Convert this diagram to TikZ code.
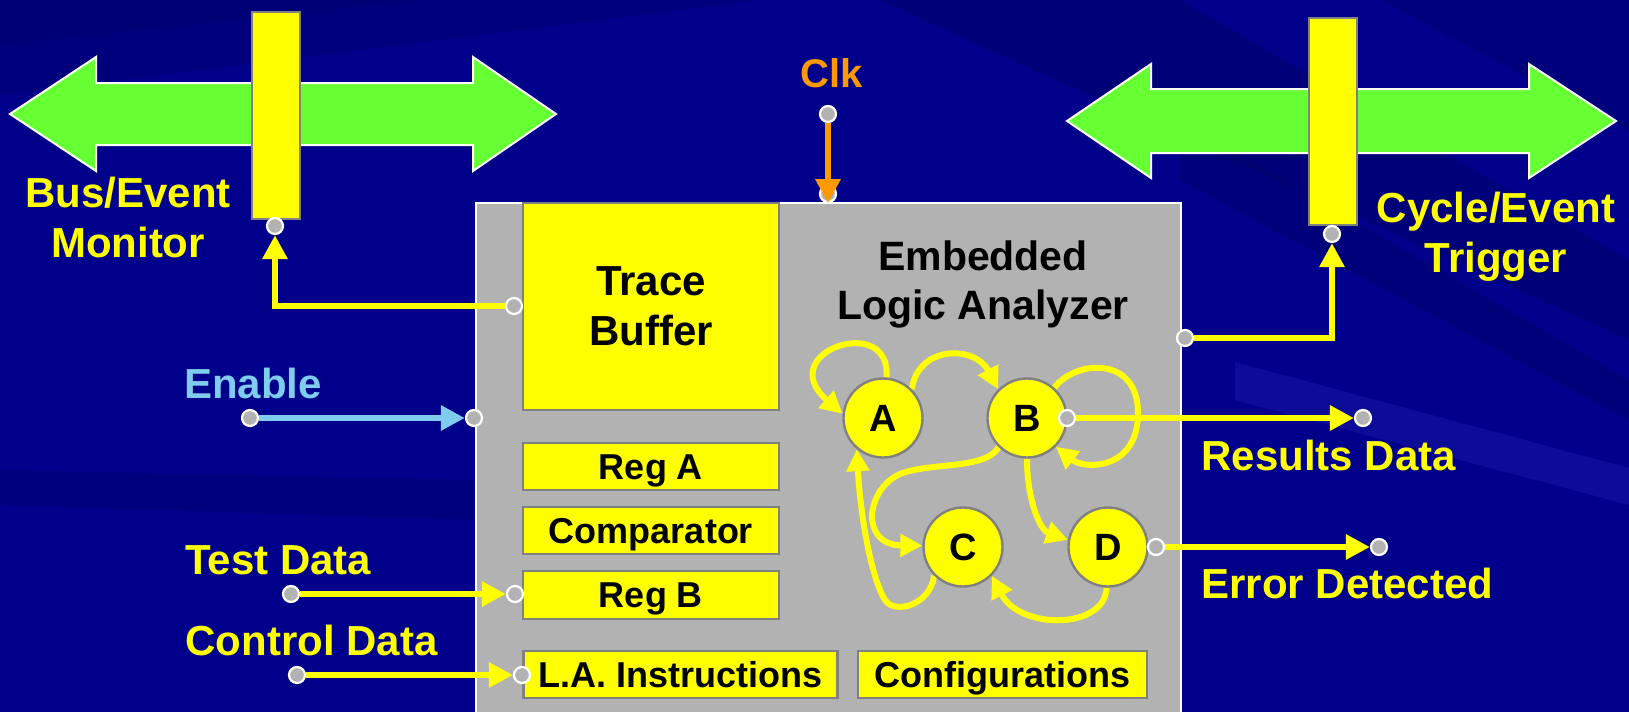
\documentclass[tikz,border=0pt]{standalone}
\usepackage{fontspec}
\setmainfont{Liberation Sans}
\usetikzlibrary{arrows.meta}

\definecolor{navy}{HTML}{00008A}
\definecolor{navydark}{HTML}{000066}
\definecolor{navylight}{HTML}{3030C8}
\definecolor{busgreen}{HTML}{66FF33}
\definecolor{hiyellow}{HTML}{FFFF00}
\definecolor{panelgray}{HTML}{B2B2B2}
\definecolor{edgegray}{HTML}{808080}
\definecolor{clkorange}{HTML}{FF9900}
\definecolor{enblue}{HTML}{80CCEE}

\pgfdeclarelayer{back}
\pgfdeclarelayer{wires}
\pgfsetlayers{back,wires,main}

\tikzset{
  port/.style={circle, fill=panelgray, draw=white, line width=1.1pt,
    minimum size=8pt, inner sep=0pt},
  blockbox/.style={draw=edgegray, line width=1.2pt, fill=hiyellow, inner sep=0pt,
    text=black, font=\fontsize{18}{21}\selectfont\bfseries},
  regbox/.style={blockbox, text height=12.9pt, text depth=0pt},
  statenode/.style={circle, draw=edgegray, line width=1.2pt, fill=hiyellow,
    minimum size=39.5pt, inner sep=0pt, font=\fontsize{19}{22}\selectfont\bfseries},
  biglabel/.style={text=hiyellow, inner sep=0pt, font=\fontsize{21}{25}\selectfont\bfseries},
  titlelabel/.style={text=black, inner sep=0pt, font=\fontsize{20.5}{25}\selectfont\bfseries},
  wire/.style={draw=hiyellow, line width=3pt, -{Triangle[length=12pt,width=12pt]}},
  transition/.style={draw=hiyellow, line width=3pt, -{Triangle[length=11pt,width=11pt]}},
  busarrow/.style={fill=busgreen, draw=white, line width=1pt, line join=miter},
  busbar/.style={fill=hiyellow, draw=edgegray, line width=1.2pt, inner sep=0pt,
    minimum width=24pt, minimum height=103.5pt, anchor=north west},
}

\begin{document}
\begin{tikzpicture}[x=0.5pt, y=-0.5pt]
\useasboundingbox (0,0) rectangle (1629,712);
\clip (0,0) rectangle (1629,712);

\begin{pgfonlayer}{back}
  % backdrop with soft diagonal streaks
  \fill[navy] (0,0) rectangle (1629,712);
  \fill[navydark, opacity=.35] (0,0) -- (760,0) -- (0,95) -- cycle;
  \fill[navydark, opacity=.3] (0,0) -- (420,0) -- (0,45) -- cycle;
  \fill[navydark, opacity=.45] (880,0) -- (1180,0) -- (1629,260) -- (1629,340) -- cycle;
  \fill[navydark, opacity=.4] (1180,120) -- (1629,380) -- (1629,420) -- (1180,180) -- cycle;
  \fill[navydark, opacity=.35] (1380,0) -- (1629,0) -- (1629,130) -- cycle;
  \fill[navylight, opacity=.25] (1235,362) -- (1629,468) -- (1629,505) -- (1235,400) -- cycle;
  \fill[navydark, opacity=.3] (0,470) -- (475,480) -- (475,520) -- (0,505) -- cycle;

  % system buses
  \path[busarrow] (10,114) -- (96,57) -- (96,83) -- (473,83) -- (473,57) -- (556,114)
    -- (473,171) -- (473,145) -- (96,145) -- (96,171) -- cycle;
  \path[busarrow] (1067,121) -- (1151,64) -- (1151,89) -- (1529,89) -- (1529,64) -- (1616,121)
    -- (1529,178) -- (1529,153) -- (1151,153) -- (1151,178) -- cycle;
  \node[busbar] (busBar) at (251,11) {};
  \node[busbar] (trigBar) at (1308,17) {};

  % analyzer panel and its blocks
  \node[draw=white, fill=panelgray, line width=1pt, inner sep=0pt, anchor=north west,
        minimum width=352.5pt, minimum height=265pt] (panel) at (475,202) {};
  \node[blockbox, minimum width=128pt, minimum height=103.5pt, align=center,
        font=\fontsize{21}{25}\selectfont\bfseries] (trace) at (651,306.5) {Trace\\Buffer};
  \node[regbox, minimum width=128pt, minimum height=23.5pt] (regA) at (651,466.5) {Reg A};
  \node[regbox, minimum width=128pt, minimum height=23.5pt] (cmp) at (651,530.5) {Comparator};
  \node[regbox, minimum width=128pt, minimum height=24pt] (regB) at (651,595) {Reg B};
  \node[regbox, minimum width=157pt, minimum height=23.5pt] (laInstr) at (680.5,674.5) {L.A. Instructions};
  \node[regbox, minimum width=144.5pt, minimum height=23.5pt] (config) at (1002.5,674.5) {Configurations};
\end{pgfonlayer}

% panel title
\node[titlelabel, anchor=base] (ttl1) at (983,270) {Embedded};
\node[titlelabel, anchor=base] (ttl2) at (983,319) {Logic Analyzer};

% state machine
\node[statenode] (A) at (883,418) {A};
\node[statenode] (B) at (1027,418) {B};
\node[statenode] (C) at (963,547) {C};
\node[statenode] (D) at (1108,547) {D};

% ports
\node[port] (busPort) at (275,226) {};
\node[port] (trigPort) at (1332,234) {};
\node[port] (tbPort) at (514,306) {};
\node[port] (trigOut) at (1185,338) {};
\node[port] (clkTop) at (828,114) {};
\node[port] (clkBot) at (828,194) {};
\node[port] (enIn) at (250,418) {};
\node[port] (enPort) at (474,418) {};
\node[port] (tdIn) at (291,594) {};
\node[port] (regBPort) at (515,594) {};
\node[port] (cdIn) at (297,675) {};
\node[port] (laPort) at (522,675) {};
\node[port] (bOut) at (1067,418) {};
\node[port] (resPort) at (1363,418) {};
\node[port] (dOut) at (1156,547) {};
\node[port] (errPort) at (1379,547) {};

% the clock arrow runs over its port
\draw[wire, draw=clkorange] (clkTop) -- (clkBot.south);

% outside labels
\node[biglabel, anchor=base] (busLbl1) at (128,207) {Bus/Event};
\node[biglabel, anchor=base] (busLbl2) at (128,257) {Monitor};
\node[biglabel, anchor=base] (trigLbl1) at (1496,222) {Cycle/Event};
\node[biglabel, anchor=base] (trigLbl2) at (1496,272) {Trigger};
\node[biglabel, anchor=base, text=clkorange, font=\fontsize{20}{24}\selectfont\bfseries] (clkLbl) at (832,87) {Clk};
\node[biglabel, anchor=base, text=enblue] (enLbl) at (253,398) {Enable};
\node[biglabel, anchor=base west] (tdLbl) at (185,574) {Test Data};
\node[biglabel, anchor=base west] (cdLbl) at (185,655) {Control Data};
\node[biglabel, anchor=base west] (resLbl) at (1201,470) {Results Data};
\node[biglabel, anchor=base west] (errLbl) at (1201,598) {Error Detected};

\begin{pgfonlayer}{wires}
  % signals in and out of the analyzer
  \draw[wire] (tbPort) -| (busPort);
  \draw[wire] (trigOut) -| (trigPort);
  \draw[wire, draw=enblue] (enIn) -- (enPort);
  \draw[wire] (tdIn) -- (regBPort);
  \draw[wire] (cdIn) -- (laPort);
  \draw[wire] (bOut) -- (resPort);
  \draw[wire] (dOut) -- (errPort);

  % state transitions
  \draw[transition] (A.85) .. controls (892,312) and (772,352) .. (A.174);
  \draw[transition] (A.45) .. controls (918,345) and (975,345) .. (B.135);
  \draw[transition] (B.48) .. controls (1075,360) and (1138,355) .. (1138,413)
                           .. controls (1138,470) and (1085,470) .. (B.315);
  \draw[transition] (B.226) .. controls (985,470) and (930,462) .. (900,474)
                            .. controls (865,490) and (860,545) .. (C.178);
  \draw[transition] (B.south) .. controls (1027,500) and (1040,530) .. (D.170);
  \draw[transition] (C.225) .. controls (930,605) and (895,615) .. (885,600)
                            .. controls (870,575) and (860,510) .. (A.230);
  \draw[transition] (D.268) .. controls (1105,630) and (1020,630) .. (C.315);
\end{pgfonlayer}
\end{tikzpicture}
\end{document}
